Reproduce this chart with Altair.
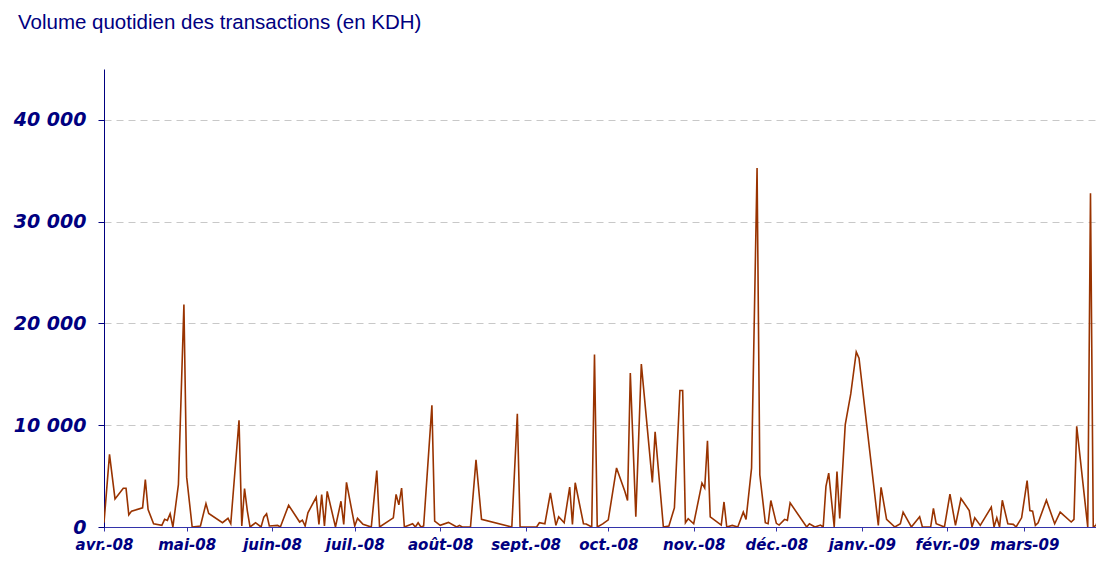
import altair as alt
import pandas as pd

# Daily transaction volume (KDH); day = days since start date
start = "2008-04-01"
day = [0, 2, 4, 7, 8, 9, 10, 14, 15, 16, 18, 21, 22, 23, 24, 25, 27, 29, 30, 32,
       35, 37, 38, 43, 45, 46, 49, 50, 51, 52, 53, 55, 57, 58, 59, 60, 63, 64, 67, 71,
       72, 73, 74, 77, 78, 79, 80, 81, 84, 86, 87, 88, 91, 92, 94, 97, 99, 100, 105, 106,
       107, 108, 109, 112, 113, 114, 115, 116, 119, 120, 122, 125, 128, 129, 130, 133, 135, 137, 148, 150,
       151, 157, 158, 160, 162, 164, 165, 167, 169, 170, 171, 174, 175, 177, 178, 179, 181, 183, 186, 189,
       190, 191, 193, 195, 199, 200, 203, 205, 207, 209, 210, 211, 212, 214, 217, 218, 219, 220, 224, 225,
       226, 228, 230, 232, 233, 235, 237, 238, 240, 241, 242, 244, 245, 247, 248, 249, 255, 256, 258, 260,
       261, 262, 263, 265, 266, 267, 269, 271, 273, 274, 281, 282, 284, 287, 289, 290, 293, 296, 297, 300,
       301, 302, 305, 307, 309, 311, 314, 315, 316, 318, 322, 323, 324, 325, 326, 328, 330, 331, 333, 335,
       336, 337, 338, 339, 342, 345, 347, 351, 352, 353, 357, 358, 359, 360, 362]
volume = [420, 7140, 2760, 3800, 3800, 1200, 1560, 1880, 4650, 1720, 320, 160, 750, 650, 1300, 0, 4160, 21850, 4900, 0,
          100, 2300, 1330, 420, 850, 320, 10490, 100, 3770, 1620, 0, 420, 0, 970, 1300, 100, 160, 0, 2140, 490,
          680, 100, 1400, 2920, 260, 3180, 100, 3500, 0, 2530, 260, 4380, 100, 850, 260, 0, 5550, 0, 900, 3210,
          2170, 3830, 0, 320, 0, 420, 0, 100, 11950, 580, 160, 450, 0, 160, 0, 0, 6590, 750, 0, 11130,
          0, 0, 420, 320, 3340, 160, 1000, 420, 3930, 260, 4350, 320, 300, 0, 16950, 0, 300, 700, 5800, 3510,
          2600, 15130, 1000, 16010, 4380, 9350, 0, 100, 1880, 13410, 13410, 420, 810, 320, 4320, 3830, 8470, 1000, 190, 2460,
          0, 160, 0, 1460, 750, 5780, 35260, 5130, 420, 320, 2600, 360, 190, 750, 650, 2370, 0, 320, 0, 190,
          0, 3990, 5290, 0, 5450, 850, 10060, 13080, 17210, 16590, 160, 3900, 750, 0, 320, 1460, 0, 1000, 0, 0,
          1820, 320, 0, 3240, 160, 2790, 1620, 0, 900, 160, 1950, 0, 900, 0, 2630, 320, 260, 0, 900, 4550,
          1620, 1560, 160, 420, 2630, 320, 1460, 490, 750, 9900, 0, 32800, 0, 160, 1750]

month_ticks = [(2008, 4), (2008, 5), (2008, 6), (2008, 7), (2008, 8), (2008, 9), (2008, 10),
               (2008, 11), (2008, 12), (2009, 1), (2009, 2), (2009, 3)]
month_names = ["janv.", "févr.", "mars", "avr.", "mai", "juin", "juil.", "août",
               "sept.", "oct.", "nov.", "déc."]
y_ticks = [0, 10000, 20000, 30000, 40000]

dates = pd.Timestamp(start) + pd.to_timedelta(day, unit="D")
df = pd.DataFrame({"date": dates, "volume": volume})

names_js = "[" + ",".join("'%s'" % m for m in month_names) + "]"

chart = alt.Chart(df).mark_line(color="#993300", strokeWidth=1.6, clip=True).encode(
    x=alt.X(
        "date:T",
        scale=alt.Scale(domain=[alt.DateTime(year=2008, month=4, date=1),
                                alt.DateTime(year=2009, month=3, date=27)]),
        axis=alt.Axis(
            title=None,
            values=[alt.DateTime(year=y, month=m, date=1) for y, m in month_ticks],
            labelExpr=names_js + "[month(datum.value)] + '-' + timeFormat(datum.value, '%y')",
            grid=False,
            domainColor="#3333aa",
            tickColor="#3333aa",
            tickSize=4,
            labelFont="DejaVu Sans",
            labelFontSize=15,
            labelFontWeight="bold",
            labelFontStyle="italic",
            labelColor="#000080",
            labelPadding=6,
            labelFlush=False,
            labelOverlap=False,
        ),
    ),
    y=alt.Y(
        "volume:Q",
        scale=alt.Scale(domain=[0, 45000], nice=False),
        axis=alt.Axis(
            title=None,
            values=y_ticks,
            labelExpr="replace(format(datum.value, ',d'), ',', ' ')",
            grid=True,
            gridColor="#c8c8c8",
            gridDash=[7, 5],
            gridWidth=1,
            domainColor="#000080",
            tickColor="#000080",
            tickSize=6,
            labelFont="DejaVu Sans",
            labelFontSize=19,
            labelFontWeight="bold",
            labelFontStyle="italic",
            labelColor="#000080",
            labelPadding=12,
            minExtent=94,
            maxExtent=94,
        ),
    ),
).properties(
    width=992,
    height=458,
    padding={"left": 2, "top": 4, "right": 0, "bottom": 0},
    title=alt.TitleParams(
        "Volume quotidien des transactions (en KDH)",
        anchor="start",
        frame="bounds",
        font="Liberation Sans",
        fontSize=20.5,
        fontWeight="normal",
        color="#000080",
        dx=8,
        offset=36,
    ),
).configure_view(stroke=None)

chart.save("out.html", embed_options={"renderer": "svg", "actions": False})
